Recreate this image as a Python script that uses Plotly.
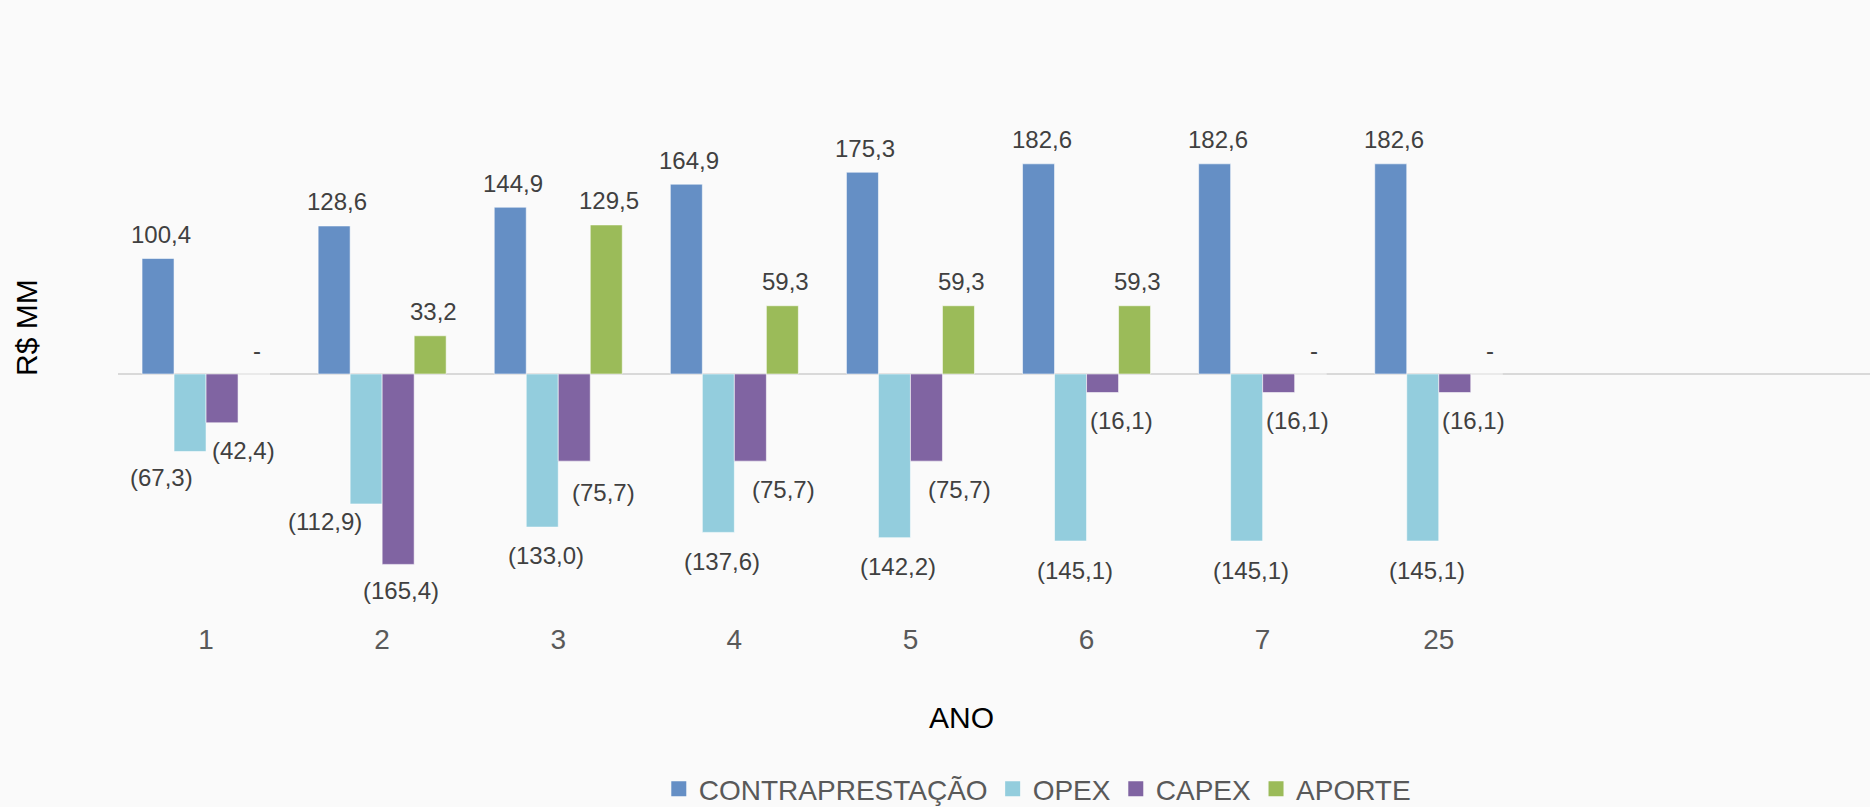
import plotly.graph_objects as go

# ---------------- data ----------------
categories = ["1", "2", "3", "4", "5", "6", "7", "25"]
series_names = ["CONTRAPRESTAÇÃO", "OPEX", "CAPEX", "APORTE"]
contraprestacao = [100.4, 128.6, 144.9, 164.9, 175.3, 182.6, 182.6, 182.6]
opex = [-67.3, -112.9, -133.0, -137.6, -142.2, -145.1, -145.1, -145.1]
capex = [-42.4, -165.4, -75.7, -75.7, -75.7, -16.1, -16.1, -16.1]
aporte = [0.0, 33.2, 129.5, 59.3, 59.3, 59.3, 0.0, 0.0]
series_values = [contraprestacao, opex, capex, aporte]

# ---------------- style ----------------
colors = ["#658FC5", "#93CDDD", "#8064A2", "#9BBB59"]
BG = "#FAFAFA"
W, H = 1870, 807
M_L, M_R, M_T, M_B = 118, 0, 60, 187
plot_w = W - M_L - M_R
plot_h = H - M_T - M_B
slot_px = 176.1
px_per_unit = 1.151
zero_px = 374 - M_T
y_top = zero_px / px_per_unit
y_bot = -(plot_h - zero_px) / px_per_unit
x_range = [-0.5, -0.5 + plot_w / slot_px]
bargap = 0.273
bar_px = slot_px * (1 - bargap) / len(series_names)

# label offsets (pixels) relative to bar end: (dx, dy-down)
label_dx = [
    [3] * 8,
    [-29, -41, 4, 4, 4, 4, 4, 4],
    [21, 3, 29, 33, 33, 19, 19, 19],
    [3] * 8,
]
label_dy = [
    [-24] * 8,
    [26.5, 17.8, 28.7, 29, 29, 29, 29, 29],
    [28, 26.6, 31, 28, 28, 28.3, 28.3, 28.3],
    [-24] * 8,
]


def fmt(v):
    if v == 0:
        return "-"
    s = f"{abs(v):.1f}".replace(".", ",")
    return f"({s})" if v < 0 else s


def cat_paper_x(j):
    return (j - x_range[0]) / (x_range[1] - x_range[0])


fig = go.Figure()
for name, vals, col in zip(series_names, series_values, colors):
    fig.add_trace(go.Bar(
        name=name, x=categories, y=vals, showlegend=False,
        marker=dict(color=col, line=dict(color="rgba(255,255,255,0.55)", width=1)),
        hoverinfo="skip",
    ))
# legend entries with square swatches
for name, col in zip(series_names, colors):
    fig.add_trace(go.Scatter(
        name=name, x=[None], y=[None], mode="markers",
        marker=dict(symbol="square", size=15, color=col),
        showlegend=True, hoverinfo="skip",
    ))

annotations = []
for i, vals in enumerate(series_values):
    off = (i - (len(series_names) - 1) / 2) * bar_px
    for j, v in enumerate(vals):
        annotations.append(dict(
            x=cat_paper_x(j), y=v, xref="paper", yref="y",
            text=fmt(v), showarrow=False,
            xshift=off + label_dx[i][j], yshift=-label_dy[i][j],
            xanchor="center", yanchor="middle",
            font=dict(family="Liberation Sans, Arial, sans-serif", size=24, color="#404040"),
        ))

annotations.append(dict(
    text="ANO", xref="paper", yref="paper",
    x=(961 - M_L) / plot_w, y=(M_T + plot_h - 717) / plot_h,
    showarrow=False, xanchor="center", yanchor="middle",
    font=dict(family="Liberation Sans, Arial, sans-serif", size=30, color="#000000"),
))
annotations.append(dict(
    text="R$ MM", xref="paper", yref="paper", textangle=-90,
    x=(26 - M_L) / plot_w, y=(M_T + plot_h - 328) / plot_h,
    showarrow=False, xanchor="center", yanchor="middle",
    font=dict(family="Liberation Sans, Arial, sans-serif", size=30, color="#000000"),
))

fig.update_layout(
    width=W, height=H,
    margin=dict(l=M_L, r=M_R, t=M_T, b=M_B, pad=0),
    paper_bgcolor=BG, plot_bgcolor=BG,
    barmode="group", bargap=bargap, bargroupgap=0,
    showlegend=True,
    legend=dict(
        orientation="h", xref="container", yref="container",
        x=0.5547, y=(H - 789) / H, xanchor="center", yanchor="middle",
        font=dict(family="Liberation Sans, Arial, sans-serif", size=28, color="#595959"),
        bgcolor="rgba(0,0,0,0)", itemwidth=30, tracegroupgap=0,
    ),
    xaxis=dict(
        type="category", range=x_range, showgrid=False, zeroline=False,
        showline=False, ticks="",
        tickfont=dict(family="Liberation Sans, Arial, sans-serif", size=28, color="#595959"),
        fixedrange=True,
    ),
    yaxis=dict(
        range=[y_bot, y_top], showgrid=False, showticklabels=False,
        zeroline=True, zerolinecolor="#D9D9D9", zerolinewidth=2,
        showline=False, ticks="", fixedrange=True,
    ),
    annotations=annotations,
)

fig.write_html(
    "out.html",
    config={"displayModeBar": False},
    post_script="document.body.style.margin='0';document.body.style.padding='0';"
                "document.body.style.overflow='hidden';"
                "document.body.style.background='#FAFAFA';",
)
